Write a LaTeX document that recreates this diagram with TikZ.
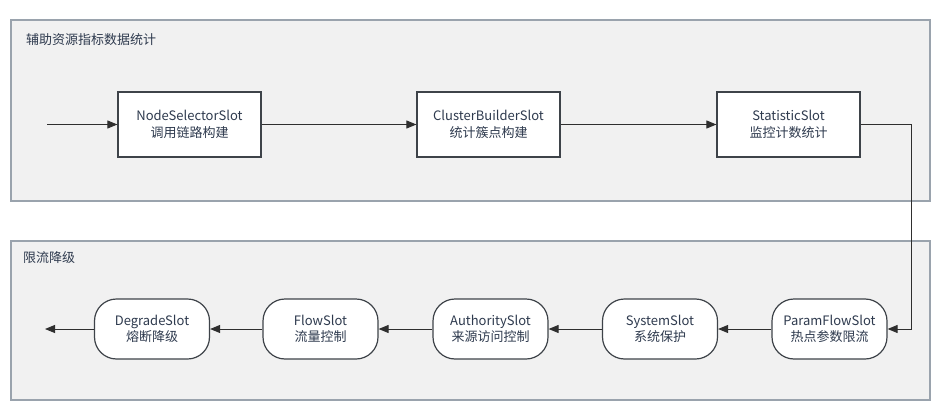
\documentclass[tikz,border=0pt]{standalone}
\usepackage{fontspec}
\setmainfont{Noto Sans CJK SC}
\usetikzlibrary{arrows.meta, positioning}
\definecolor{slotLine}{HTML}{3E4349}
\definecolor{slotText}{HTML}{2E3A4E}
\definecolor{groupFill}{HTML}{F1F1F1}
\definecolor{groupLine}{HTML}{9AA3AD}
\definecolor{flowLine}{HTML}{2F2F2F}
\tikzset{
  chainfig/.style={
    x=1pt, y=-1pt,
    every node/.append style={font=\fontsize{13}{16.5}\selectfont, text=slotText},
    >={Triangle[length=10pt, width=8pt]},
  },
  groupbox/.style={
    draw=groupLine, line width=1.2pt, fill=groupFill, inner sep=0pt,
    minimum width=919pt,
  },
  grouplabel/.style={anchor=west, inner sep=0pt},
  slotbox/.style={
    draw=slotLine, line width=1.2pt, fill=white, align=center,
    minimum width=143pt, minimum height=65pt, inner sep=2pt,
  },
  % Regelpruefende Slots: abgerundete Enden.
  rulebox/.style={slotbox, rounded corners=22pt, minimum width=115pt, minimum height=60pt},
  flow/.style={draw=flowLine, line width=1pt, ->},
}
\begin{document}
\begin{tikzpicture}[chainfig]
  \useasboundingbox (0,0) rectangle (941,417);
  \node[groupbox, minimum height=181pt] (StatGroup) at (470.5,110.5) {};
  \node[groupbox, minimum height=159pt] (RuleGroup) at (470.5,320.5) {};
  \node[grouplabel] (StatLabel) at (26,40) {辅助资源指标数据统计};
  \node[grouplabel] (RuleLabel) at (23,258) {限流降级};
  \node[slotbox] (NodeSelectorSlot) at (189.5,124.5) {NodeSelectorSlot\\调用链路构建};
  \node[slotbox] (ClusterBuilderSlot) at (488.5,124.5) {ClusterBuilderSlot\\统计簇点构建};
  \node[slotbox] (StatisticSlot) at (788.5,124.5) {StatisticSlot\\监控计数统计};
  \node[rulebox] (ParamFlowSlot) at (829.5,329) {ParamFlowSlot\\热点参数限流};
  \node[rulebox] (SystemSlot) at (660,329) {SystemSlot\\系统保护};
  \node[rulebox] (AuthoritySlot) at (490.5,329) {AuthoritySlot\\来源访问控制};
  \node[rulebox] (FlowSlot) at (320.5,329) {FlowSlot\\流量控制};
  \node[rulebox] (DegradeSlot) at (152,329) {DegradeSlot\\熔断降级};
  \coordinate (EntryPoint) at (47,124.5);
  \coordinate (ExitPoint) at (45,329);
  \draw[flow] (EntryPoint) -- (NodeSelectorSlot);
  \draw[flow] (NodeSelectorSlot) -- (ClusterBuilderSlot);
  \draw[flow] (ClusterBuilderSlot) -- (StatisticSlot);
  \draw[flow] (StatisticSlot.east) -- ++(51,0) |- (ParamFlowSlot.east);
  \draw[flow] (ParamFlowSlot) -- (SystemSlot);
  \draw[flow] (SystemSlot) -- (AuthoritySlot);
  \draw[flow] (AuthoritySlot) -- (FlowSlot);
  \draw[flow] (FlowSlot) -- (DegradeSlot);
  \draw[flow] (DegradeSlot) -- (ExitPoint);
\end{tikzpicture}
\end{document}
